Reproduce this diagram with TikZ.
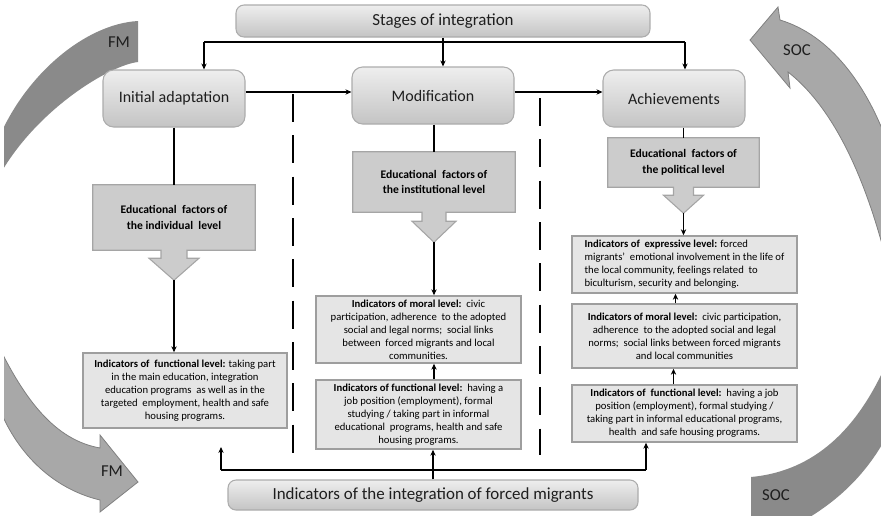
\documentclass[tikz,border=0pt]{standalone}
\usepackage{fontspec}
\setmainfont{Carlito}
\usetikzlibrary{arrows.meta,calc,backgrounds}

\definecolor{bandDark}{RGB}{138,138,138}
\definecolor{bandLight}{RGB}{168,168,168}
\definecolor{bandEdge}{RGB}{128,128,128}
\definecolor{boxTop}{RGB}{238,238,238}
\definecolor{boxBot}{RGB}{196,196,196}
\definecolor{boxLine}{RGB}{172,172,172}
\definecolor{calFill}{RGB}{204,204,204}
\definecolor{calLine}{RGB}{165,165,165}
\definecolor{indFill}{RGB}{229,229,229}
\definecolor{indLine}{RGB}{158,158,158}
\definecolor{ink}{RGB}{30,30,30}

% down-arrow callout outline behind a named node:
% #1 node, #2 neck half width, #3 neck length, #4 head half width, #5 head length
\newcommand\drawcallout[5]{%
  \coordinate (#1tip) at ($(#1.south)+(0,#3+#5)$);
  \begin{scope}[on background layer]
    \path[calshape] (#1.north west) -- (#1.north east) -- (#1.south east)
      -- ($(#1.south)+(#2,0)$) -- ($(#1.south)+(#2,#3)$) -- ($(#1.south)+(#4,#3)$)
      -- (#1tip)
      -- ($(#1.south)+(-#4,#3)$) -- ($(#1.south)+(-#2,#3)$) -- ($(#1.south)+(-#2,0)$)
      -- (#1.south west) -- cycle;
  \end{scope}}

\begin{document}
\begin{tikzpicture}[x=0.75pt,y=-0.75pt,
  stagebox/.style={draw=boxLine, line width=0.8pt, rounded corners=8pt,
    top color=boxTop, bottom color=boxBot, inner sep=0pt, text=ink,
    font=\fontsize{12}{14}\selectfont},
  titlebox/.style={stagebox, rounded corners=6pt, font=\fontsize{12.7}{14}\selectfont},
  calbox/.style={inner sep=0pt, align=center, text=black,
    font=\bfseries\fontsize{8.7}{11.8}\selectfont},
  calshape/.style={draw=calLine, line width=0.8pt, fill=calFill},
  indbox/.style={draw=indLine, line width=1.1pt, fill=indFill, inner sep=0pt,
    align=center, text=black, font=\fontsize{8}{9.7}\selectfont},
  link/.style={draw=black, line width=0.9pt},
  arr/.style={link, -{Stealth[length=4.5pt,width=4pt]}},
  divider/.style={draw=black, line width=1.3pt, dash pattern=on 21pt off 10pt},
  darkband/.style={fill=bandDark},
  lightband/.style={fill=bandLight, draw=bandEdge, line width=0.6pt},
  bandlabel/.style={font=\fontsize{12.5}{14}\selectfont, text=ink}
]
\useasboundingbox (0,0) rectangle (881,515);

% ---- circulating bands round the diagram
\begin{scope}
  \clip (4,0) rectangle (881,515);
  % upper left band
  \path[darkband] (138,21) .. controls (85,24) and (25,75) .. (-2,140)
    -- (-2,178) .. controls (35,110) and (110,65) .. (138,62) -- cycle;
  % lower left arrow
  \path[lightband] (-2,345) .. controls (25,400) and (55,440) .. (100,448)
    -- (100,435) -- (138,482) -- (100,512) -- (100,500)
    .. controls (50,488) and (15,450) .. (-2,405) -- cycle;
  % upper right arrow
  \path[lightband] (750,40) -- (778,7) -- (780,20)
    .. controls (830,35) and (868,85) .. (890,150) -- (890,275)
    .. controls (865,170) and (830,105) .. (788,72) -- (790,88) -- cycle;
  % lower right band
  \path[darkband] (751,477) .. controls (805,472) and (855,440) .. (890,355)
    -- (890,430) .. controls (865,480) and (830,505) .. (805,520)
    -- (751,520) -- cycle;
\end{scope}
\node[bandlabel] (fmTop) at (119,42) {FM};
\node[bandlabel] (fmBot) at (112,471) {FM};
\node[bandlabel] (socTop) at (797,50) {SOC};
\node[bandlabel] (socBot) at (776,495) {SOC};

% ---- stage boxes
\node[titlebox, minimum width=414*0.75pt, minimum height=32*0.75pt] (stages) at (443,21) {Stages of integration};
\node[stagebox, minimum width=142*0.75pt, minimum height=57*0.75pt] (init) at (174,98.5) {Initial adaptation};
\node[stagebox, minimum width=162*0.75pt, minimum height=57*0.75pt] (modif) at (433,95.5) {Modification};
\node[stagebox, minimum width=142*0.75pt, minimum height=57*0.75pt] (achv) at (674,98.5) {Achievements};
\node[titlebox, minimum width=410*0.75pt, minimum height=30*0.75pt] (bot) at (433,495) {Indicators of the integration of forced migrants};

% ---- educational factors
\node[calbox, minimum width=162*0.75pt, minimum height=65*0.75pt] (cal1) at (174,217.5) {Educational\ \ factors of\\the individual\ \ level};
\drawcallout{cal1}{13}{8}{25}{22}
\node[calbox, minimum width=162*0.75pt, minimum height=60*0.75pt] (cal2) at (434,182) {Educational\ \ factors of\\the institutional level};
\drawcallout{cal2}{12}{9}{22}{21}
\node[calbox, minimum width=151*0.75pt, minimum height=49*0.75pt] (cal3) at (683.5,162.5) {Educational\ \ factors of\\the political level};
\drawcallout{cal3}{10}{8}{20}{18}

% ---- indicator boxes
\node[indbox, minimum width=204*0.75pt, minimum height=75*0.75pt] (initF) at (185,390.5)
  {\textbf{Indicators of\ \ functional level:} taking part\\in the main education, integration\\education programs\ \ as well as in the\\targeted\ \ employment, health and safe\\housing programs.};
\node[indbox, minimum width=205*0.75pt, minimum height=67*0.75pt] (modM) at (418.5,329.5)
  {\textbf{Indicators of moral level:}\ \ civic\\participation, adherence\ \ to the adopted\\social and legal norms;\ \ social links\\between\ \ forced migrants and local\\communities.};
\node[indbox, minimum width=205*0.75pt, minimum height=69*0.75pt] (modF) at (418.5,414.5)
  {\textbf{Indicators of functional level:}\ \ having a\\job position (employment), formal\\studying / taking part in informal\\educational\ \ programs, health and safe\\housing programs.};
\node[indbox, align=left, minimum width=225*0.75pt, minimum height=57*0.75pt] (achE) at (684.5,264.5)
  {\textbf{Indicators of\ \ expressive level:} forced\\migrants'\ \ emotional involvement in the life of\\the local community, feelings related\ \ to\\biculturism, security and belonging.};
\node[indbox, minimum width=225*0.75pt, minimum height=64*0.75pt] (achM) at (684.5,336)
  {\textbf{Indicators of moral level:}\ \ civic participation,\\adherence\ \ to the adopted social and legal\\norms;\ \ social links between forced migrants\\and local communities};
\node[indbox, minimum width=225*0.75pt, minimum height=57*0.75pt] (achF) at (684.5,413.5)
  {\textbf{Indicators of\ \ functional level:}\ \ having a job\\position (employment), formal studying /\\taking part in informal educational programs,\\health\ \ and safe housing programs.};

% ---- dividing dashed lines
\coordinate (d1top) at (293,94);
\coordinate (d1bot) at (293,455);
\coordinate (d2top) at (540,98);
\coordinate (d2bot) at (540,455);
\draw[divider] (d1top) -- (d1bot);
\draw[divider] (d2top) -- (d2bot);

% ---- connectors from the stages header
\coordinate (busL) at (204,42);
\coordinate (busR) at (685,42);
\draw[link] (busL) -- (busR);
\draw[arr] (busL) -- (busL |- init.north);
\draw[arr] (busR) -- (busR |- achv.north);
\draw[arr] (stages.south) -- (stages.south |- modif.north);

% ---- stage to stage
\coordinate (row) at (0,92);
\draw[arr] (init.east |- row) -- (modif.west |- row);
\draw[arr] (modif.east |- row) -- (achv.west |- row);

% ---- stage to educational factors to indicators
\draw[link] (init.south) -- (init.south |- cal1.north);
\draw[arr] (cal1tip) -- (cal1tip |- initF.north);
\draw[link] (cal2.north |- modif.south) -- (cal2.north);
\draw[arr] (cal2tip) -- (cal2tip |- modM.north);
\draw[link] (cal3.north |- achv.south) -- (cal3.north);
\draw[arr] (cal3tip) -- (cal3tip |- achE.north);

% ---- indicator chains
\draw[arr] (modF.north -| cal2tip) -- (modM.south -| cal2tip);
\draw[arr] ($(achM.north)+(-9,0)$) -- ($(achE.south)+(-9,0)$);
\draw[arr] ($(achF.north)+(-11,0)$) -- ($(achM.south)+(-11,0)$);

% ---- from the integration indicators
\coordinate (bl) at (221,470);
\coordinate (br) at (646,470);
\coordinate (lend) at (221,447);
\draw[link] (bl) -- (br);
\draw[arr] (bl) -- (lend);
\draw[arr] (br) -- (br |- achF.south);
\draw[arr] (bot.north) -- (bot.north |- modF.south);
\end{tikzpicture}
\end{document}
